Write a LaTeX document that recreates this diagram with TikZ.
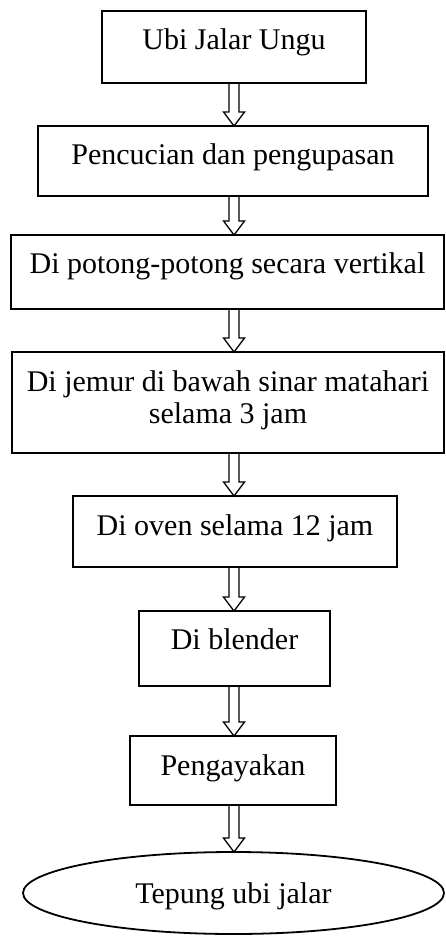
\documentclass[tikz,border=0pt]{standalone}
\usepackage{fontspec}
\setmainfont{Liberation Serif}
\usetikzlibrary{shapes.geometric}

\begin{document}
\begin{tikzpicture}[x=1pt,y=-1pt]
\tikzset{
    stepbox/.style={
              draw,
                   line width=1.8pt,
                   anchor=north west,
                   inner sep=0pt,
                   outer sep=0pt,
                   font=\fontsize{30}{32}\selectfont
    },
    endbox/.style={
              ellipse,
                   draw,
                   line width=1.8pt,
                   inner sep=0pt,
                   outer sep=0pt,
                   minimum width=421pt,
                   minimum height=82pt,
                   text height=20pt,
                   text depth=0pt,
                   font=\fontsize{30}{32}\selectfont
    },
    hollow/.style={
              line width=1.3pt,
                   line join=miter
    }
}
    \useasboundingbox (0,0) rectangle (445,936);

    \node (ubi)[stepbox, minimum width=264pt, text height=39pt, text depth=33pt] at (102,11) {Ubi Jalar Ungu};
    \node (cuci)[stepbox, minimum width=390pt, text height=39pt, text depth=31pt] at (38,126) {Pencucian dan pengupasan};
    \node (potong)[stepbox, minimum width=433pt, text height=38pt, text depth=36pt] at (11,235) {Di potong-potong secara vertikal};
    \node (jemur)[stepbox, minimum width=432pt, align=center, text height=71pt, text depth=30pt] at (12,352) {Di jemur di bawah sinar matahari\\ selama 3 jam};
    \node (oven)[stepbox, minimum width=324pt, text height=39pt, text depth=32pt] at (73,496) {Di oven selama 12 jam};
    \node (blender)[stepbox, minimum width=191pt, text height=38pt, text depth=37pt] at (139,611) {Di blender};
    \node (ayak)[stepbox, minimum width=206pt, text height=39pt, text depth=30pt] at (130,736) {Pengayakan};
    \node (tepung)[endbox] at (233.5,893) {Tepung ubi jalar};

    \coordinate (axis) at (234,0);

    % hollow arrows between the steps
    \foreach \a/\b in {ubi/cuci, cuci/potong, potong/jemur, jemur/oven, oven/blender, blender/ayak, ayak/tepung} {
        \path (\a.south -| axis) coordinate (s) (\b.north -| axis) coordinate (e);
        \draw[hollow] ([xshift=-5pt]s) -- ([xshift=-5pt,yshift=14pt]e) -- ([xshift=-10.5pt,yshift=14pt]e) -- (e)
            -- ([xshift=10.5pt,yshift=14pt]e) -- ([xshift=5pt,yshift=14pt]e) -- ([xshift=5pt]s);
    }

\end{tikzpicture}
\end{document}
